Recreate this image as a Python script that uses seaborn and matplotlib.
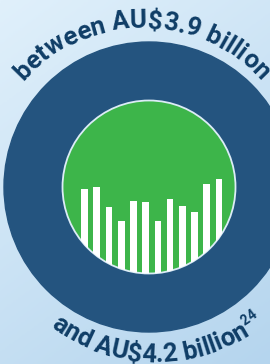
import numpy as np
import matplotlib
matplotlib.use("Agg")
import matplotlib.pyplot as plt
from matplotlib import font_manager, ft2font
from matplotlib.colors import LinearSegmentedColormap
from matplotlib.patches import Circle
import seaborn as sns

# data
bar_labels = [str(i) for i in range(1, 13)]
bar_values = [86, 88, 68, 54, 74, 73, 54, 76, 69, 63, 91, 96]
top_text = "between AU$3.9 billion"
bottom_text = "and AU$4.2 billion"
footnote = "24"

NAVY = "#24547f"
GREEN = "#3db54a"
TEXT = "#0f3d66"
FONT = "Roboto"

fig = plt.figure(figsize=(2.7, 3.64), dpi=100)
ax = fig.add_axes([0, 0, 1, 1])

# light blue gradient background
yy, xx = np.mgrid[0:1:200j, 0:1:150j]
grad = 0.35 * xx + 0.65 * yy
bg = LinearSegmentedColormap.from_list("bg", ["#e0f0fb", "#b5d5ee"])
ax.imshow(grad, cmap=bg, extent=(0, 270, 364, 0), aspect="auto", zorder=0)
ax.set_xlim(0, 270)
ax.set_ylim(364, 0)
ax.axis("off")

cx, cy = 149, 187
outer = Circle((cx, cy), 145, color=NAVY, zorder=1)
inner = Circle((cx, cy), 86.5, facecolor=GREEN, edgecolor="#dcecf7", lw=1.3, zorder=2)
ax.add_patch(outer)
ax.add_patch(inner)

# bars inside the green circle
axb = fig.add_axes([78.4 / 270, (364 - 275) / 364, 146.7 / 270, 100 / 364])
sns.barplot(x=bar_labels, y=bar_values, color="white", saturation=1, width=0.55,
            linewidth=0, ax=axb)
axb.set_xlim(-0.5, 11.5)
axb.set_ylim(0, 100)
axb.axis("off")
axb.patch.set_alpha(0)
for b in axb.patches:
    b.set_clip_path(inner)


def advances(s, size):
    fp = font_manager.FontProperties(family=FONT, weight="bold", size=size)
    ft = ft2font.FT2Font(font_manager.findfont(fp))
    ft.set_size(size, 100)
    return fp, [ft.load_char(ord(c)).linearHoriAdvance / 65536 for c in s]


def arc_text(s, c0, r, center_deg, span, upper=True):
    # pick the size so the text fills the given arc length
    _, a = advances(s, 20)
    size = 20 * span / sum(a)
    fp, adv = advances(s, size)
    total = sum(adv)
    pos = np.cumsum([0] + adv[:-1]) + np.array(adv) / 2
    for c, p in zip(s, pos):
        if upper:
            th = np.radians(center_deg) + (total / 2 - p) / r
            rot = np.degrees(th) - 90
        else:
            th = np.radians(center_deg) - (total / 2 - p) / r
            rot = np.degrees(th) + 90
        ax.text(c0[0] + r * np.cos(th), c0[1] - r * np.sin(th), c, rotation=rot,
                rotation_mode="anchor", ha="center", va="baseline",
                fontproperties=fp, color=TEXT, zorder=3)
    return np.radians(center_deg) + total / (2 * r)


arc_text(top_text, (142, 187), 159, 90, 268, upper=True)
c_b, rb = (155, 187), 175
th_end = arc_text(bottom_text, c_b, rb, -92, 212, upper=False)

# superscript footnote
fp2, adv2 = advances(footnote, 10)
r2 = rb - 10
p = 0.5
for c, a in zip(footnote, adv2):
    th = th_end + (p + a / 2) / r2
    ax.text(c_b[0] + r2 * np.cos(th), c_b[1] - r2 * np.sin(th), c,
            rotation=np.degrees(th) + 90, rotation_mode="anchor",
            ha="center", va="baseline", fontproperties=fp2, color=TEXT, zorder=3)
    p += a

fig.savefig("out.png", dpi=100)
